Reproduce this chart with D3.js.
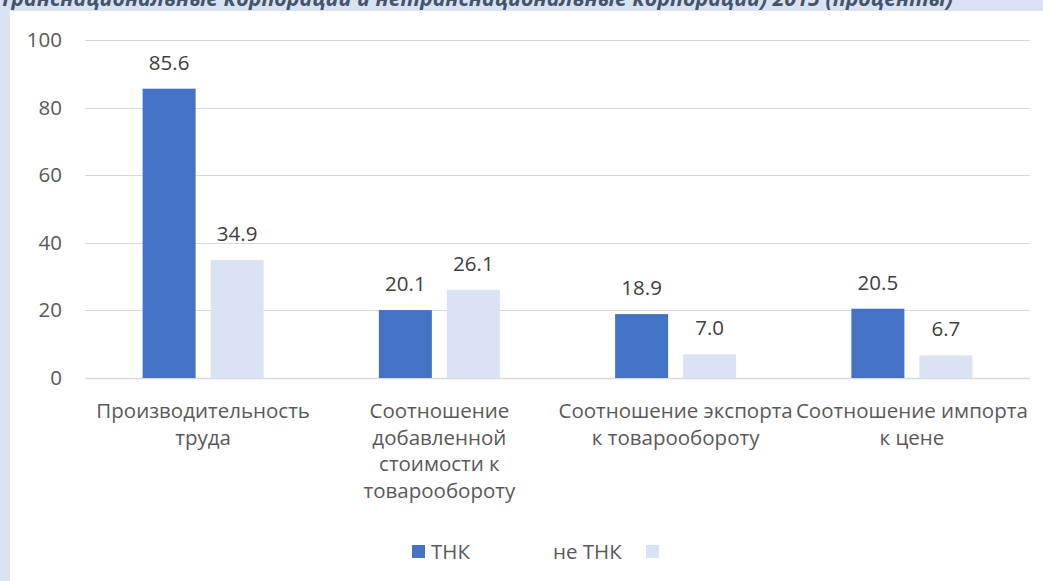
<!DOCTYPE html>
<html>
<head>
<meta charset="utf-8">
<script src="https://cdn.jsdelivr.net/npm/d3@7"></script>
<style>
  html, body { margin: 0; padding: 0; background: #d9e2f3; }
  svg { display: block; }
</style>
</head>
<body>
<svg id="chart" width="1043" height="581"></svg>
<script>
// Indicators compared for the two groups of firms
const categories = [
  ["Производительность", "труда"],
  ["Соотношение", "добавленной", "стоимости к", "товарообороту"],
  ["Соотношение экспорта", "к товарообороту"],
  ["Соотношение импорта", "к цене"]
];
const seriesNames = ["ТНК", "не ТНК"];
const tnkValues = [85.6, 20.1, 18.9, 20.5];
const nonTnkValues = [34.9, 26.1, 7.0, 6.7];
const yTicks = [0, 20, 40, 60, 80, 100];
const titleText = "Транснациональные корпорации и нетранснациональные корпорации) 2015 (проценты)";

const colors = ["#4472c4", "#dae3f3"];
const font = "Open Sans, Noto Sans, sans-serif";
const fs = 20.5;
const textColor = "#595959";

const svg = d3.select("#chart");
const W = 1043, H = 581;

// Heading band and white chart area
svg.append("rect").attr("x", 0).attr("y", 0).attr("width", W).attr("height", H).attr("fill", "#d9e2f3");
svg.append("text")
  .attr("x", 0).attr("y", 6)
  .attr("font-family", "Open Sans, sans-serif")
  .attr("font-size", 21.4).attr("font-weight", "bold").attr("font-style", "italic")
  .attr("fill", "#44546a")
  .text(titleText);
svg.append("rect").attr("x", 9).attr("y", 10).attr("width", W - 9).attr("height", H - 10)
  .attr("fill", "#ffffff");
svg.append("path").attr("d", `M9.5,${H} V10.5 H${W}`).attr("fill", "none").attr("stroke", "#e3e3e3");

const plot = { left: 85, right: 1030, top: 40, bottom: 378 };

const x = d3.scaleBand().domain(d3.range(categories.length))
  .range([plot.left, plot.right]).paddingInner(0).paddingOuter(0);
const y = d3.scaleLinear().domain([0, 100]).range([plot.bottom, plot.top]);

const barW = 53, barGap = 15;
const groupW = barW * 2 + barGap;
const sub = d3.scaleBand().domain([0, 1]).range([0, groupW]).paddingInner(barGap / groupW * 2 / (1 + barGap / groupW)).paddingOuter(0);

// Gridlines
svg.append("g").selectAll("line").data(yTicks).join("line")
  .attr("x1", plot.left).attr("x2", plot.right)
  .attr("y1", d => Math.round(y(d)) + 0.5).attr("y2", d => Math.round(y(d)) + 0.5)
  .attr("stroke", "#d9d9d9").attr("stroke-width", d => d === 0 ? 1.5 : 1);

// Y axis labels
const yAxis = svg.append("g").attr("transform", `translate(${plot.left - 23},0)`)
  .call(d3.axisLeft(y).tickValues(yTicks).tickSize(0).tickPadding(0).tickFormat(d3.format("d")));
yAxis.select(".domain").remove();
yAxis.selectAll("text").attr("font-family", font).attr("font-size", fs).attr("fill", textColor);

// Bars and value labels
const series = [tnkValues, nonTnkValues];
series.forEach((vals, s) => {
  const g = svg.append("g");
  const xOf = i => x(i) + (x.bandwidth() - groupW) / 2 + sub(s);
  g.selectAll("rect").data(vals).join("rect")
    .attr("x", (d, i) => xOf(i))
    .attr("y", d => y(d))
    .attr("width", sub.bandwidth())
    .attr("height", d => y(0) - y(d))
    .attr("fill", colors[s]);
  g.selectAll("text").data(vals).join("text")
    .attr("x", (d, i) => xOf(i) + sub.bandwidth() / 2)
    .attr("y", d => y(d) - 19)
    .attr("text-anchor", "middle")
    .attr("font-family", font).attr("font-size", fs).attr("fill", "#404040")
    .text(d => d.toFixed(1));
});

// Category labels
const catG = svg.append("g");
categories.forEach((lines, i) => {
  const t = catG.append("text")
    .attr("x", x(i) + x.bandwidth() / 2)
    .attr("y", 418)
    .attr("text-anchor", "middle")
    .attr("font-family", font).attr("font-size", fs).attr("fill", textColor);
  lines.forEach((ln, k) => {
    t.append("tspan").attr("x", x(i) + x.bandwidth() / 2).attr("y", 418 + k * 26.5).text(ln);
  });
});

// Legend
const leg = svg.append("g").attr("font-family", font).attr("font-size", fs).attr("fill", textColor);
leg.append("rect").attr("x", 412).attr("y", 545).attr("width", 13).attr("height", 13).attr("fill", colors[0]);
leg.append("text").attr("x", 431).attr("y", 559).text(seriesNames[0]);
leg.append("text").attr("x", 553).attr("y", 559).text(seriesNames[1]);
leg.append("rect").attr("x", 646).attr("y", 545).attr("width", 13).attr("height", 13).attr("fill", colors[1]);
</script>
</body>
</html>
